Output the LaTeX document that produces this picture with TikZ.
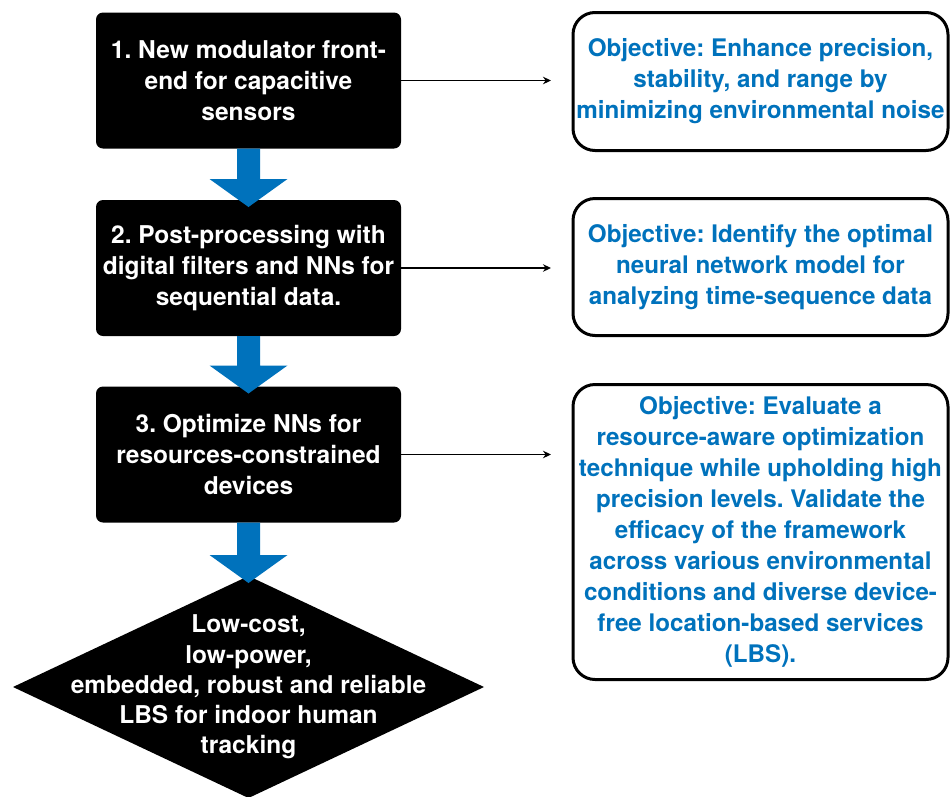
\documentclass[tikz,border=0pt]{standalone}
\usepackage{fontspec}
\setmainfont{TeX Gyre Heros}
\usetikzlibrary{arrows.meta,calc,shapes.geometric}

\definecolor{flowblue}{RGB}{0,114,188}

% Block arrow pointing down from the bottom of one node to the top of the next
\newcommand\flowdown[2]{%
  \fill[flowblue]
    ($(#1.south)+(-11.5,0)$) -- ($(#1.south)+(11.5,0)$)
    -- ($(#2.north)+(11.5,-21)$) -- ($(#2.north)+(39,-21)$)
    -- ($(#2.north)+(0,7)$)
    -- ($(#2.north)+(-39,-21)$) -- ($(#2.north)+(-11.5,-21)$) -- cycle;}

\tikzset{
  procbox/.style={fill=black, rounded corners=7pt, minimum width=305pt,
    minimum height=136pt, inner sep=0pt, outer sep=0pt, text=white,
    align=center, font=\frenchspacing\bfseries\fontsize{24.5}{30.8}\selectfont},
  goalshape/.style={diamond, fill=black, minimum width=471pt,
    minimum height=222pt, inner sep=0pt, outer sep=0pt},
  goaltext/.style={text=white, align=center, inner sep=0pt,
    font=\frenchspacing\bfseries\fontsize{24.5}{30.2}\selectfont},
  objbox/.style={draw=black, line width=3pt, fill=white, rounded corners=22pt,
    minimum width=375pt, inner sep=0pt, outer sep=0pt, text=flowblue,
    align=center, font=\frenchspacing\bfseries\fontsize{24.2}{31}\selectfont},
  link/.style={line width=1.3pt, -{Stealth[length=8pt,width=7.5pt]},
    shorten >=22pt}
}

\begin{document}
\begin{tikzpicture}[x=1pt, y=-1pt]
\useasboundingbox[fill=white] (0,0) rectangle (951,796);

% Work packages
\node[procbox] (b1) at (248.5,80.5) {1. New modulator front-\\end for capacitive\\sensors};
\node[procbox] (b2) at (248.5,268) {2. Post-processing with\\digital filters and NNs for\\sequential data.};
\node[procbox] (b3) at (248.5,454.5) {3. Optimize NNs for\\resources-constrained\\devices};

% Final outcome
\node[goalshape] (goal) at (248.5,687) {};
\node[goaltext] (goalt) at (goal.center) {Low-cost,\\low-power,\\embedded, robust and reliable\\LBS for indoor human\\tracking};

% Objectives
\node[objbox, minimum height=138pt] (o1) at (760.5,81.5) {Objective: Enhance precision,\\stability, and range by\\minimizing environmental noise};
\node[objbox, minimum height=137pt] (o2) at (760.5,267) {Objective: Identify the optimal\\neural network model for\\analyzing time-sequence data};
\node[objbox, minimum height=295pt] (o3) at (760.5,532) {Objective: Evaluate a\\resource-aware optimization\\technique while upholding high\\precision levels. Validate the\\efficacy of the framework\\across various environmental\\conditions and diverse device-\\free location-based services\\(LBS).};

% Flow between stages
\flowdown{b1}{b2}
\flowdown{b2}{b3}
\flowdown{b3}{goal}

% Links to objectives
\draw[link] (b1.east) -- (b1.east -| o1.west);
\draw[link] (b2.east) -- (b2.east -| o2.west);
\draw[link] (b3.east) -- (b3.east -| o3.west);
\end{tikzpicture}
\end{document}
